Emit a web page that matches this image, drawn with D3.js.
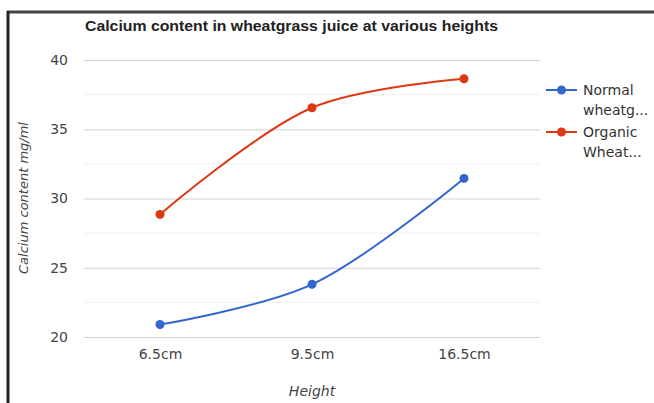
<!DOCTYPE html>
<html>
<head>
<meta charset="utf-8">
<script src="https://cdn.jsdelivr.net/npm/d3@7"></script>
<style>
  html, body { margin: 0; padding: 0; background: #fff; }
  svg { display: block; font-family: "DejaVu Sans", Verdana, sans-serif; }
</style>
</head>
<body>
<svg id="chart" width="654" height="403"></svg>
<script>
// Chart data
const heights = ["6.5cm", "9.5cm", "16.5cm"];
const normalWheatgrass = [20.9, 23.8, 31.45];
const organicWheatgrass = [28.85, 36.55, 38.65];
const seriesNames = ["Normal wheatg...", "Organic Wheat..."];
const seriesColors = ["#3366cc", "#dc3912"];
const yTicks = [20, 25, 30, 35, 40];
const yMinorTicks = [22.5, 27.5, 32.5, 37.5];

const FONT = "DejaVu Sans, Verdana, sans-serif";
const svg = d3.select("#chart");

// Frame edges
svg.append("line").attr("x1", 7).attr("x2", 654).attr("y1", 12).attr("y2", 12)
  .attr("stroke", "#444").attr("stroke-width", 3);
svg.append("line").attr("x1", 8).attr("x2", 8).attr("y1", 11).attr("y2", 403)
  .attr("stroke", "#222").attr("stroke-width", 3);

const plot = { left: 84, right: 540, top: 60, bottom: 337 };

const x = d3.scalePoint().domain(heights).range([plot.left, plot.right]).padding(0.5);
const y = d3.scaleLinear().domain([20, 40]).range([plot.bottom, plot.top]);

// Gridlines
svg.append("g").selectAll("line").data(yMinorTicks).join("line")
  .attr("x1", plot.left).attr("x2", plot.right)
  .attr("y1", d => y(d)).attr("y2", d => y(d))
  .attr("stroke", "#ededed").attr("stroke-width", 1);

const yAxis = svg.append("g").attr("transform", `translate(${plot.left},0)`)
  .call(d3.axisLeft(y).tickValues(yTicks).tickSize(-(plot.right - plot.left)).tickPadding(16));
yAxis.select(".domain").remove();
yAxis.selectAll(".tick line").attr("stroke", "#d4d4d4");
yAxis.selectAll(".tick text").attr("fill", "#444").attr("font-size", 14).attr("font-family", FONT);

const xAxis = svg.append("g").attr("transform", `translate(0,${plot.bottom})`)
  .call(d3.axisBottom(x).tickSize(0).tickPadding(12));
xAxis.select(".domain").remove();
xAxis.selectAll(".tick text").attr("fill", "#444").attr("font-size", 14).attr("font-family", FONT);

// Title and axis titles
svg.append("text").attr("x", 85).attr("y", 31)
  .attr("font-family", "Liberation Sans, Arial, sans-serif")
  .attr("font-size", 15).attr("font-weight", "bold").attr("fill", "#222")
  .attr("textLength", 413).attr("lengthAdjust", "spacingAndGlyphs")
  .text("Calcium content in wheatgrass juice at various heights");

svg.append("text").attr("transform", "translate(28,198) rotate(-90)")
  .attr("text-anchor", "middle").attr("font-size", 13).attr("font-style", "italic")
  .attr("fill", "#444").text("Calcium content mg/ml");

svg.append("text").attr("x", 312).attr("y", 396).attr("text-anchor", "middle")
  .attr("font-size", 14).attr("font-style", "italic").attr("fill", "#444").text("Height");

// Series
const series = [normalWheatgrass, organicWheatgrass];
const line = d3.line().x((d, i) => x(heights[i])).y(d => y(d)).curve(d3.curveCatmullRom.alpha(0.5));

series.forEach((vals, s) => {
  svg.append("path").datum(vals).attr("d", line)
    .attr("fill", "none").attr("stroke", seriesColors[s]).attr("stroke-width", 2);
  svg.append("g").selectAll("circle").data(vals).join("circle")
    .attr("cx", (d, i) => x(heights[i])).attr("cy", d => y(d)).attr("r", 4.5)
    .attr("fill", seriesColors[s]);
});

// Legend
const legendY = [90, 132];
series.forEach((vals, s) => {
  const g = svg.append("g");
  g.append("line").attr("x1", 546).attr("x2", 577).attr("y1", legendY[s]).attr("y2", legendY[s])
    .attr("stroke", seriesColors[s]).attr("stroke-width", 2);
  g.append("circle").attr("cx", 561.5).attr("cy", legendY[s]).attr("r", 4.5).attr("fill", seriesColors[s]);
  const parts = seriesNames[s].split(" ");
  g.append("text").attr("x", 583).attr("y", legendY[s] + 5)
    .attr("font-size", 14).attr("fill", "#333").text(parts[0]);
  g.append("text").attr("x", 583).attr("y", legendY[s] + 25)
    .attr("font-size", 14).attr("fill", "#333").text(parts[1]);
});
</script>
</body>
</html>
